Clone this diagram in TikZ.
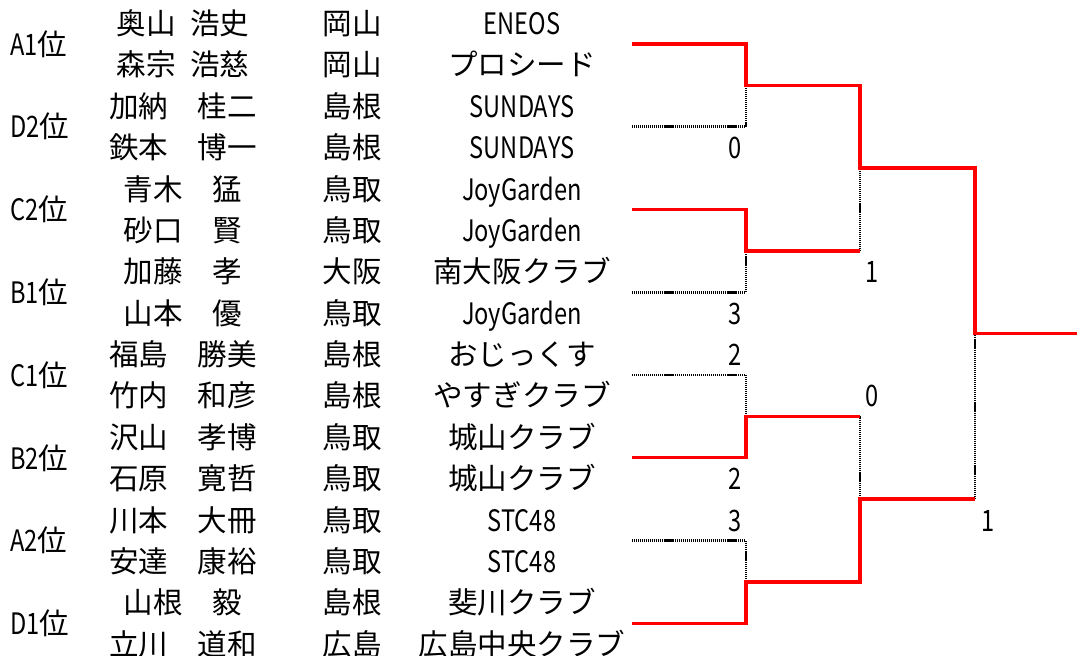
\documentclass[tikz,border=0pt]{standalone}
\usepackage{fontspec}
\setmainfont{Noto Sans CJK JP}
\newfontfamily\hw{Noto Sans CJK JP}[FakeStretch=0.8]
\begin{document}
\begin{tikzpicture}[x=0.025cm, y=-0.025cm,
    every node/.style={font=\fontsize{21}{25}\selectfont, inner sep=0pt, text height=18.5pt, text depth=2.5pt},
    won/.style={red, line width=2.4pt},
    lost/.style={black, line width=2pt, dash pattern=on 0.8pt off 0.6pt}]
    \useasboundingbox (0,0) rectangle (1077,656);
    % seeds
    \foreach \rk [count=\k from 0] in {A1,D2,C2,B1,C1,B2,A2,D1}
        \node[anchor=west] (rank\k) at (10,{44+82.75*\k}) {{\hw\rk}位};
    % players
    \foreach \nm/\pf/\tm [count=\i from 0] in {
        奥山\hspace{.5em}浩史/岡山/{\hw ENEOS},
        森宗\hspace{.5em}浩慈/岡山/プロシード,
        加納　桂二/島根/{\hw SUNDAYS},
        鉄本　博一/島根/{\hw SUNDAYS},
        青木　猛/鳥取/{\hw JoyGarden},
        砂口　賢/鳥取/{\hw JoyGarden},
        加藤　孝/大阪/南大阪クラブ,
        山本　優/鳥取/{\hw JoyGarden},
        福島　勝美/島根/おじっくす,
        竹内　和彦/島根/やすぎクラブ,
        沢山　孝博/鳥取/城山クラブ,
        石原　寛哲/鳥取/城山クラブ,
        川本　大冊/鳥取/{\hw STC48},
        安達　康裕/鳥取/{\hw STC48},
        山根　毅/島根/斐川クラブ,
        立川　道和/広島/広島中央クラブ} {
        \node (name\i) at (183,{23.3+41.375*\i}) {\nm};
        \node (pref\i) at (352,{23.3+41.375*\i}) {\pf};
        \node (team\i) at (522,{23.3+41.375*\i}) {\tm};
    }
    % bracket
    \foreach \k in {0,...,7}
        \coordinate (e\k) at (632,{44+82.75*\k});
    \foreach \j in {0,...,3}
        \coordinate (m\j) at (746,{85.4+165.5*\j});
    \coordinate (q0) at (860,168.1);
    \coordinate (q1) at (860,499.1);
    \coordinate (fin) at (975,333.6);
    \coordinate (champ) at (1077,333.6);
    \draw[lost] (e1) -| (m0);
    \draw[lost] (e3) -| (m1);
    \draw[lost] (e4) -| (m2);
    \draw[lost] (e6) -| (m3);
    \draw[lost] (m1 -| q0) -- (q0);
    \draw[lost] (m2 -| q1) -- (q1);
    \draw[lost] (q1 -| fin) -- (fin);
    \draw[won] (e0) -| (m0) -| (q0) -| (fin) -- (champ);
    \draw[won] (e2) -| (m1) -- (m1 -| q0);
    \draw[won] (e5) -| (m2) -- (m2 -| q1);
    \draw[won] (e7) -| (m3) -| (q1) -- (q1 -| fin);
    % scores
    \foreach \r/\sc in {3/0, 7/3, 8/2, 11/2, 12/3}
        \node[anchor=east] (score\r) at (742,{23.3+41.375*\r}) {\hw\sc};
    \node[anchor=west] (semi0) at (865,{23.3+41.375*6}) {\hw 1};
    \node[anchor=west] (semi1) at (865,{23.3+41.375*9}) {\hw 0};
    \node[anchor=west] (final) at (981,{23.3+41.375*12}) {\hw 1};
\end{tikzpicture}
\end{document}
